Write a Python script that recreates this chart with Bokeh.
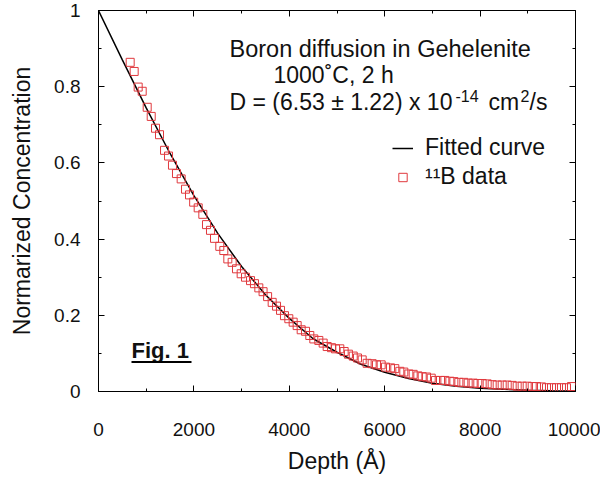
from bokeh.plotting import figure
from bokeh.models import (Range1d, FixedTicker, LinearAxis, Label, Legend,
                          LegendItem, BoxAnnotation, NumeralTickFormatter)
from bokeh.embed import file_html
from bokeh.resources import INLINE

# ---- data ----
depth = [664, 748, 832, 916, 1021, 1105, 1195, 1279, 1384, 1468, 1551, 1635, 1733, 1824, 1908,
         1995, 2090, 2187, 2264, 2348, 2432, 2543, 2627, 2711, 2802, 2893, 2991, 3082,
         3187, 3270, 3361, 3450, 3545,
         3641, 3732, 3816, 3899, 3990, 4081, 4165, 4249, 4340, 4430, 4514, 4619, 4710, 4794, 4885, 4969, 5059,
         5150, 5240, 5340, 5430,
         5528, 5632, 5737, 5828, 5926, 6017, 6122, 6212, 6317, 6401, 6506, 6597, 6695, 6786, 6877, 6975,
         7065, 7170, 7261, 7366, 7450, 7555, 7659, 7750,
         7855, 7952, 8043, 8148, 8253, 8358, 8463, 8568, 8672, 8777, 8882, 8987, 9092, 9182, 9287, 9392,
         9497, 9602, 9706, 9811, 9916]
conc = [0.864, 0.840, 0.799, 0.788, 0.746, 0.722, 0.691, 0.674, 0.633, 0.618, 0.594, 0.572, 0.558, 0.531, 0.516,
        0.497, 0.482, 0.465, 0.438, 0.423, 0.402, 0.381, 0.370, 0.348, 0.339, 0.322, 0.309, 0.300,
        0.291, 0.283, 0.272, 0.262, 0.249,
        0.234, 0.224, 0.213, 0.199, 0.191, 0.182, 0.173, 0.162, 0.158, 0.147, 0.138, 0.134, 0.127, 0.118, 0.115, 0.112, 0.112,
        0.105, 0.098, 0.093, 0.088,
        0.083, 0.074, 0.073, 0.070, 0.070, 0.064, 0.062, 0.060, 0.053, 0.051, 0.046, 0.045, 0.041, 0.039, 0.038, 0.035,
        0.029, 0.029, 0.029, 0.027, 0.026, 0.024, 0.024, 0.022,
        0.022, 0.021, 0.021, 0.020, 0.018, 0.017, 0.017, 0.017, 0.016, 0.014, 0.014, 0.014, 0.013, 0.013, 0.012, 0.010,
        0.010, 0.010, 0.010, 0.010, 0.013]

fit_depth = [0, 500, 1000, 1500, 2000, 2500, 3000, 3500, 4000, 4500, 5000,
             5500, 6000, 6500, 7000, 7500, 8000, 8500, 9000, 9500, 10000]
fit_conc = [1.0, 0.8705, 0.7443, 0.6247, 0.514, 0.415, 0.328, 0.254, 0.192, 0.1385, 0.103,
            0.0716, 0.0504, 0.0339, 0.0219, 0.0139, 0.0087, 0.0056, 0.0036, 0.0021, 0.0011]

x_ticks = [0, 2000, 4000, 6000, 8000, 10000]
x_minor = [1000, 3000, 5000, 7000, 9000]
y_ticks = [0, 0.2, 0.4, 0.6, 0.8, 1.0]
y_minor = [0.1, 0.3, 0.5, 0.7, 0.9]

FONT = "Liberation Sans"
RED = "#e0393e"
TXT = "#111111"

p = figure(width=600, height=478, output_backend="svg", toolbar_location=None,
           x_range=Range1d(0, 10000), y_range=Range1d(0, 1),
           min_border_left=98, min_border_right=25, min_border_top=10, min_border_bottom=87)
p.grid.visible = False
p.outline_line_color = "black"
p.outline_line_width = 1
p.background_fill_color = "white"
p.border_fill_color = "white"

xt = FixedTicker(ticks=x_ticks, minor_ticks=x_minor)
yt = FixedTicker(ticks=y_ticks, minor_ticks=y_minor)


def style(ax, labels=True):
    ax.axis_line_color = "black"
    ax.major_tick_line_color = "black"
    ax.minor_tick_line_color = "black"
    ax.major_tick_in = 6
    ax.major_tick_out = 0
    ax.minor_tick_in = 3
    ax.minor_tick_out = 0
    if labels:
        ax.major_label_text_font = FONT
        ax.major_label_text_font_size = "19px"
        ax.major_label_text_color = TXT
        ax.axis_label_text_font = FONT
        ax.axis_label_text_font_size = "23px"
        ax.axis_label_text_font_style = "normal"
        ax.axis_label_text_color = TXT
    else:
        # mirror axis: ticks only, labels not drawn at all
        ax.major_label_text_color = None
        ax.major_label_standoff = 0
        ax.axis_line_color = None


xa = p.xaxis[0]
xa.ticker = xt
xa.formatter = NumeralTickFormatter(format="0")
xa.axis_label = "Depth (Å)"
style(xa)
xa.major_label_standoff = 31
xa.axis_label_standoff = 9

ya = p.yaxis[0]
ya.ticker = yt
ya.formatter = NumeralTickFormatter(format="0.[0]")
ya.axis_label = "Normarized Concentration"
style(ya)
ya.major_label_standoff = 18
ya.axis_label_standoff = 16

top = LinearAxis(ticker=xt)
style(top, labels=False)
p.add_layout(top, "above")
right = LinearAxis(ticker=yt)
style(right, labels=False)
p.add_layout(right, "right")

line_r = p.line(fit_depth, fit_conc, line_color="black", line_width=1.5)
sc_r = p.scatter(depth, conc, marker="square", size=8, fill_color=None,
                 line_color=RED, line_width=1)

legend = Legend(items=[LegendItem(label="Fitted curve", renderers=[line_r]),
                       LegendItem(label="¹¹B data", renderers=[sc_r])],
                location=(294, 201), border_line_color=None, background_fill_alpha=0,
                label_text_font=FONT, label_text_font_size="23px", label_text_color=TXT,
                glyph_width=21, glyph_height=26, label_height=26, label_standoff=12,
                spacing=2, padding=0, margin=0)
p.add_layout(legend)


# layout helpers: convert picture pixel positions to data positions for annotations
def dx(px):
    return (px - 98) * 10000 / 477


def dy(py):
    return (391 - py) / 381


def lab(text, px, base, size=23, style="normal"):
    # place text so that its alphabetic baseline sits at picture row `base`
    mid = base - 0.3465 * size
    p.add_layout(Label(x=dx(px), y=dy(mid), text=text, text_font=FONT,
                       text_font_size=f"{size}px", text_font_style=style, text_color=TXT,
                       text_baseline="middle", text_align="left"))


lab("Boron diffusion in Gehelenite", 229, 57, size=23.5)
lab("1000˚C, 2 h", 273, 82)
lab("D = (6.53 ± 1.22) x 10", 229, 109)
lab("-14", 455, 101, size=16)
lab("cm", 488, 109)
lab("2", 520, 101, size=16)
lab("/s", 529, 109)

lab("Fig. 1", 131, 357.5, size=22, style="bold")
p.add_layout(BoxAnnotation(left=dx(131), right=dx(191), top=dy(360.5), bottom=dy(362.5),
                           fill_color="black", fill_alpha=1, line_color=None))

open("out.html", "w").write(file_html(p, INLINE))
